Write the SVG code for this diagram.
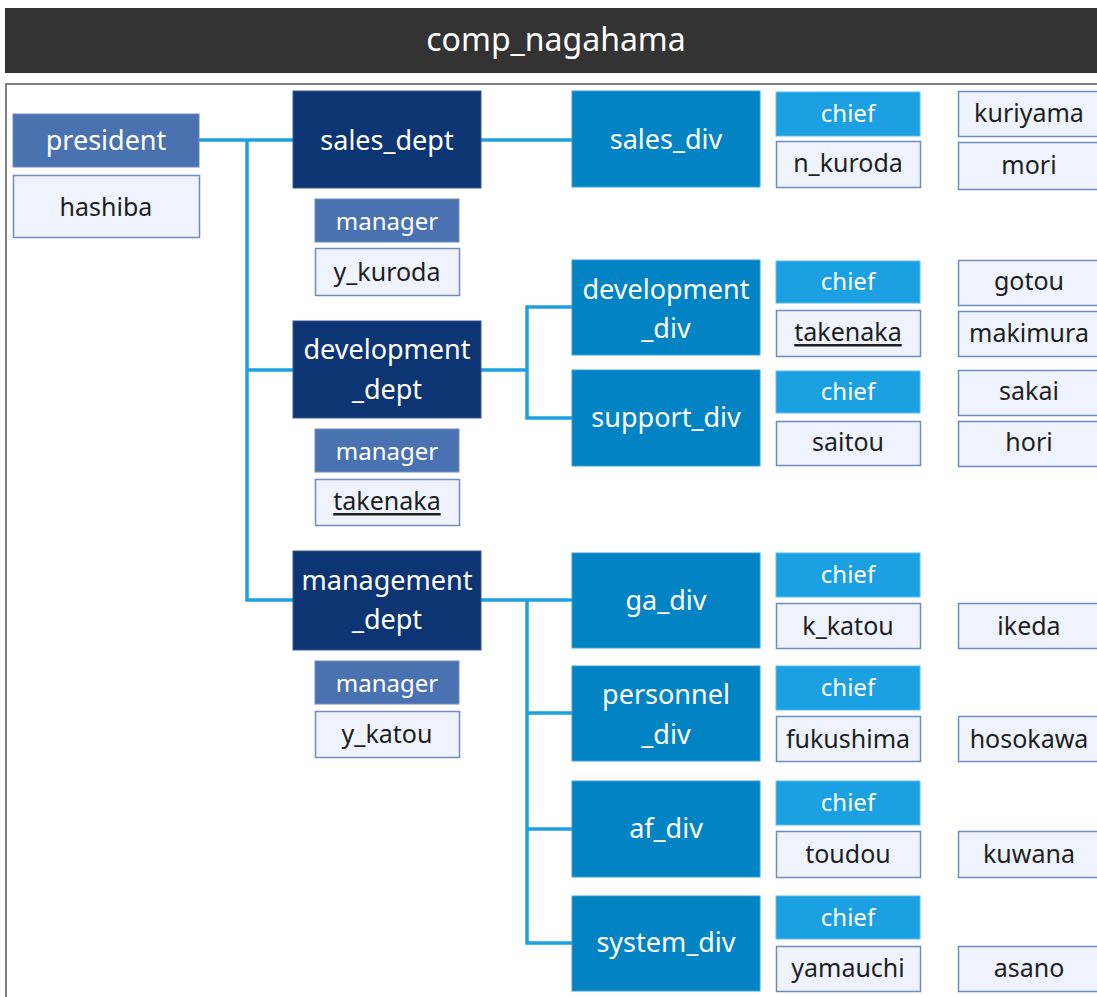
<svg xmlns="http://www.w3.org/2000/svg" width="1097" height="997" viewBox="0 0 1097 997">
<style>
text{font-family:"Noto Sans","Open Sans","DejaVu Sans",sans-serif;text-anchor:middle;dominant-baseline:central}
.title{fill:#ffffff;font-size:32px}
.role{fill:#4a72b0;stroke:#6d8cc4;stroke-width:1}
.dept{fill:#0d3573;stroke:#3a5a90;stroke-width:1}
.div{fill:#0283c3;stroke:#3aa0d6;stroke-width:1}
.chief{fill:#1ba1e2;stroke:#5cbdea;stroke-width:1}
.name{fill:#eef3fe;stroke:#6f8bc0;stroke-width:1.5}
.lbl{fill:#ffffff;font-size:27px}
.rl{fill:#ffffff;font-size:24px}
.nm{fill:#1e1e1e;font-size:25px}
.ul{text-decoration:underline}
.conn{fill:none;stroke:#1ea0e0;stroke-width:3.5;stroke-linejoin:miter}
</style>
<rect x="0" y="0" width="1097" height="997" fill="#ffffff"/>
<g id="header">
<rect x="5" y="8" width="1092" height="65" fill="#333333"/>
<text class="title" x="556" y="38">comp_nagahama</text>
</g>
<rect x="6" y="84" width="1100" height="1000" fill="none" stroke="#808080" stroke-width="2"/>
<g id="connectors">
<path class="conn" d="M199,140 H293 M247,140 V600 H293 M247,370 H293 M481,140 H572"/>
<path class="conn" d="M481,370 H527 M572,307 H527 V418 H572"/>
<path class="conn" d="M481,600 H572 M527,600 V943 H572 M527,713 H572 M527,829 H572"/>
</g>
<g id="president">
<rect class="role" x="13" y="114" width="186" height="53"/>
<text class="lbl" x="106" y="139">president</text>
<rect class="name" x="13.5" y="175.5" width="186" height="62"/>
<text class="nm" x="106" y="206">hashiba</text>
</g>
<g id="sales_dept">
<rect class="dept" x="293" y="91" width="188" height="97"/>
<text class="lbl" x="387" y="139">sales_dept</text>
<rect class="role" x="315" y="199" width="144" height="43"/>
<text class="rl" x="387" y="220">manager</text>
<rect class="name" x="315.5" y="248.5" width="144" height="47"/>
<text class="nm" x="387" y="271">y_kuroda</text>
</g>
<g id="development_dept">
<rect class="dept" x="293" y="321" width="188" height="97"/>
<text class="lbl" x="387" y="348">development</text>
<text class="lbl" x="387" y="388">_dept</text>
<rect class="role" x="315" y="429" width="144" height="43"/>
<text class="rl" x="387" y="450">manager</text>
<rect class="name" x="315.5" y="479.5" width="144" height="46"/>
<text class="nm ul" x="387" y="500">takenaka</text>
</g>
<g id="management_dept">
<rect class="dept" x="293" y="551" width="188" height="99"/>
<text class="lbl" x="387" y="579">management</text>
<text class="lbl" x="387" y="618">_dept</text>
<rect class="role" x="315" y="661" width="144" height="43"/>
<text class="rl" x="387" y="682">manager</text>
<rect class="name" x="315.5" y="711.5" width="144" height="46"/>
<text class="nm" x="387" y="733">y_katou</text>
</g>
<g id="sales_div">
<rect class="div" x="572" y="91" width="188" height="96"/>
<text class="lbl" x="666" y="138">sales_div</text>
<rect class="chief" x="776" y="92" width="144" height="44"/>
<text class="rl" x="848" y="112">chief</text>
<rect class="name" x="776.5" y="141.5" width="144" height="46"/>
<text class="nm" x="848" y="162">n_kuroda</text>
<rect class="name" x="958.5" y="91.5" width="143" height="45"/>
<text class="nm" x="1029" y="112">kuriyama</text>
<rect class="name" x="958.5" y="142.5" width="143" height="47"/>
<text class="nm" x="1029" y="164">mori</text>
</g>
<g id="development_div">
<rect class="div" x="572" y="260" width="188" height="95"/>
<text class="lbl" x="666" y="288">development</text>
<text class="lbl" x="666" y="327">_div</text>
<rect class="chief" x="776" y="261" width="144" height="42"/>
<text class="rl" x="848" y="280">chief</text>
<rect class="name" x="776.5" y="310.5" width="144" height="46"/>
<text class="nm ul" x="848" y="331">takenaka</text>
<rect class="name" x="958.5" y="260.5" width="143" height="45"/>
<text class="nm" x="1029" y="280">gotou</text>
<rect class="name" x="958.5" y="311.5" width="143" height="45"/>
<text class="nm" x="1029" y="332">makimura</text>
</g>
<g id="support_div">
<rect class="div" x="572" y="370" width="188" height="96"/>
<text class="lbl" x="666" y="416">support_div</text>
<rect class="chief" x="776" y="371" width="144" height="42"/>
<text class="rl" x="848" y="390">chief</text>
<rect class="name" x="776.5" y="421.5" width="144" height="44"/>
<text class="nm" x="848" y="441">saitou</text>
<rect class="name" x="958.5" y="370.5" width="143" height="45"/>
<text class="nm" x="1029" y="390">sakai</text>
<rect class="name" x="958.5" y="421.5" width="143" height="45"/>
<text class="nm" x="1029" y="441">hori</text>
</g>
<g id="ga_div">
<rect class="div" x="572" y="553" width="188" height="95"/>
<text class="lbl" x="666" y="599">ga_div</text>
<rect class="chief" x="776" y="553" width="144" height="44"/>
<text class="rl" x="848" y="573">chief</text>
<rect class="name" x="776.5" y="603.5" width="144" height="45"/>
<text class="nm" x="848" y="625">k_katou</text>
<rect class="name" x="958.5" y="603.5" width="143" height="45"/>
<text class="nm" x="1029" y="625">ikeda</text>
</g>
<g id="personnel_div">
<rect class="div" x="572" y="666" width="188" height="95"/>
<text class="lbl" x="666" y="693">personnel</text>
<text class="lbl" x="666" y="733">_div</text>
<rect class="chief" x="776" y="666" width="144" height="44"/>
<text class="rl" x="848" y="686">chief</text>
<rect class="name" x="776.5" y="716.5" width="144" height="45"/>
<text class="nm" x="848" y="738">fukushima</text>
<rect class="name" x="958.5" y="716.5" width="143" height="45"/>
<text class="nm" x="1029" y="738">hosokawa</text>
</g>
<g id="af_div">
<rect class="div" x="572" y="781" width="188" height="96"/>
<text class="lbl" x="666" y="827">af_div</text>
<rect class="chief" x="776" y="781" width="144" height="44"/>
<text class="rl" x="848" y="801">chief</text>
<rect class="name" x="776.5" y="831.5" width="144" height="46"/>
<text class="nm" x="848" y="853">toudou</text>
<rect class="name" x="958.5" y="831.5" width="143" height="46"/>
<text class="nm" x="1029" y="853">kuwana</text>
</g>
<g id="system_div">
<rect class="div" x="572" y="896" width="188" height="95"/>
<text class="lbl" x="666" y="941">system_div</text>
<rect class="chief" x="776" y="896" width="144" height="43"/>
<text class="rl" x="848" y="916">chief</text>
<rect class="name" x="776.5" y="946.5" width="144" height="45"/>
<text class="nm" x="848" y="967">yamauchi</text>
<rect class="name" x="958.5" y="946.5" width="143" height="45"/>
<text class="nm" x="1029" y="967">asano</text>
</g>
</svg>
